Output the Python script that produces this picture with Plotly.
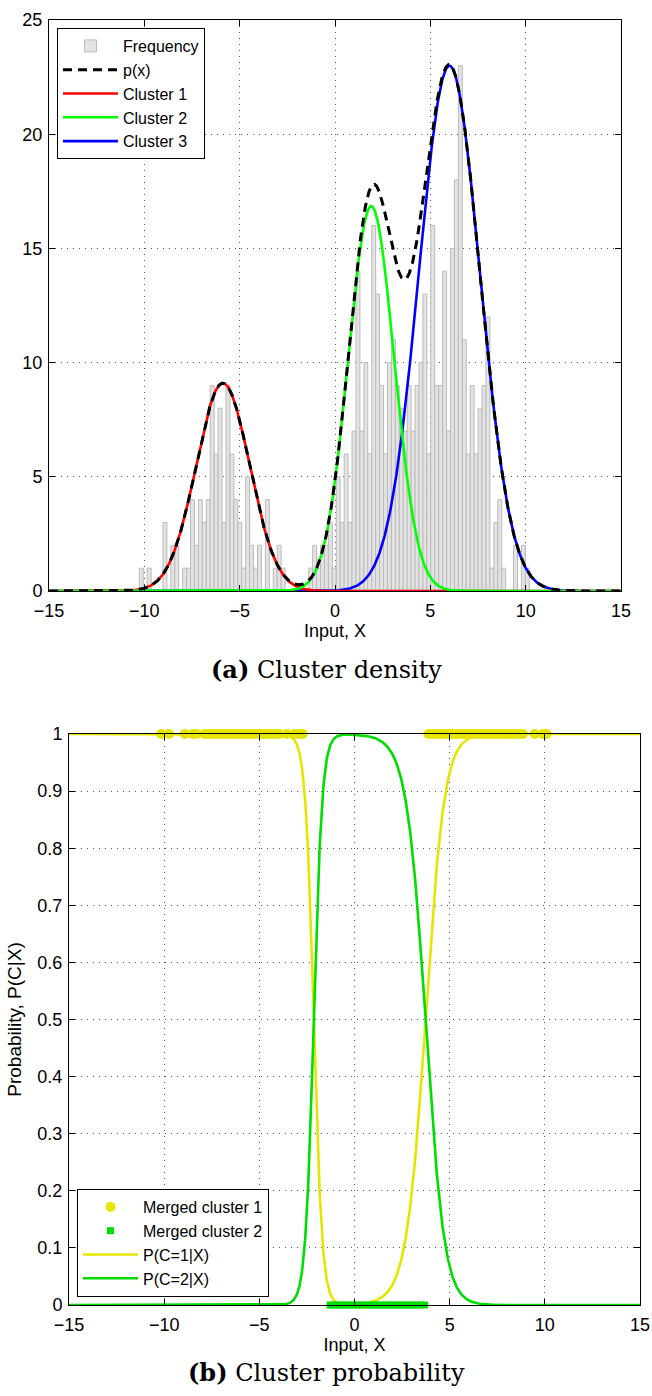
import numpy as np
import plotly.graph_objects as go

# ---------------- data ----------------
# histogram of samples (counts per bin), bins spanning hist_lo..hist_hi
hist_lo = -10.263
hist_hi = 10.19
hist_counts = [
    1, 0, 1, 0, 0, 0, 3, 0, 2, 2,
    0, 1, 1, 4, 2, 4, 3, 4, 9, 6,
    8, 3, 9, 6, 4, 3, 1, 5, 2, 1,
    2, 0, 4, 0, 1, 2, 1, 0, 0, 0,
    0, 0, 0, 1, 2, 1, 2, 2, 3, 1,
    5, 3, 6, 3, 7, 14, 7, 10, 6, 16,
    13, 9, 6, 10, 11, 9, 8, 7, 9, 7,
    9, 10, 13, 6, 16, 9, 9, 14, 7, 15,
    18, 23, 11, 6, 9, 6, 8, 9, 12, 1,
    3, 4, 1, 0, 0, 2, 0, 2, 1,
]

# fitted mixture components (panel a): mean, std, peak height
comp_mu = [-5.88, 1.9, 6.0]
comp_sd = [1.4, 1.2, 1.6]
comp_peak = [9.1, 16.85, 23.0]
comp_names = ["Cluster 1", "Cluster 2", "Cluster 3"]

# merged model used for posterior (panel b): mean, std, relative height
post_mu = [-5.88, 1.9, 6.0]
post_sd = [1.28, 1.35, 1.51]
post_h = [0.812, 1.0, 1.236]

x_ticks = [-15, -10, -5, 0, 5, 10, 15]
ya_ticks = [0, 5, 10, 15, 20, 25]
yb_ticks = [0, 0.1, 0.2, 0.3, 0.4, 0.5, 0.6, 0.7, 0.8, 0.9, 1]

# ---------------- derived ----------------
n_bins = len(hist_counts)
bw = (hist_hi - hist_lo) / n_bins
centers = hist_lo + bw * (np.arange(n_bins) + 0.5)
counts = np.array(hist_counts)

xs = np.linspace(-15, 15, 1501)
comps = [h * np.exp(-(xs - m) ** 2 / (2 * s ** 2)) for m, s, h in zip(comp_mu, comp_sd, comp_peak)]
px = comps[0] + comps[1] + comps[2]


def post(x):
    g = [h * np.exp(-(x - m) ** 2 / (2 * s ** 2)) for m, s, h in zip(post_mu, post_sd, post_h)]
    tot = g[0] + g[1] + g[2]
    return (g[0] + g[2]) / tot, g[1] / tot


p1, p2 = post(xs)
data_x = centers[counts > 0]
d1, d2 = post(data_x)
m1x = data_x[d1 >= 0.5]
m2x = data_x[d2 > 0.5]

# ---------------- figure ----------------
W, H = 652, 1396
FONT = "Liberation Sans, Arial, Helvetica, sans-serif"
SERIF = "DejaVu Serif, serif"
YEL = "#E5E500"
GRN = "#00DD00"

fig = go.Figure()

fig.add_trace(go.Bar(
    x=centers, y=counts, width=bw, name="Frequency",
    marker=dict(color="#E3E3E3", line=dict(color="#BBBBBB", width=1)),
    xaxis="x", yaxis="y", legend="legend", legendrank=1,
))
cols = ["#FF0000", "#00FF00", "#0000FF"]
for i in [2, 0, 1]:
    fig.add_trace(go.Scatter(
        x=xs, y=comps[i], mode="lines", name=comp_names[i],
        line=dict(color=cols[i], width=2.6),
        xaxis="x", yaxis="y", legend="legend", legendrank=3 + i,
    ))
fig.add_trace(go.Scatter(
    x=xs, y=px, mode="lines", name="p(x)",
    line=dict(color="black", width=3, dash="9px,6px"),
    xaxis="x", yaxis="y", legend="legend", legendrank=2,
))

# panel b
fig.add_trace(go.Scatter(
    x=xs, y=p1, mode="lines", name="P(C=1|X)",
    line=dict(color=YEL, width=2.6),
    xaxis="x2", yaxis="y2", legend="legend2", legendrank=3,
))
fig.add_trace(go.Scatter(
    x=xs, y=p2, mode="lines", name="P(C=2|X)",
    line=dict(color=GRN, width=2.6),
    xaxis="x2", yaxis="y2", legend="legend2", legendrank=4,
))
fig.add_trace(go.Scatter(
    x=m1x, y=np.ones_like(m1x), mode="markers", name="Merged cluster 1",
    marker=dict(color=YEL, size=10, symbol="circle", line=dict(width=0)),
    cliponaxis=False,
    xaxis="x2", yaxis="y2", legend="legend2", legendrank=1,
))
fig.add_trace(go.Scatter(
    x=m2x, y=np.zeros_like(m2x), mode="markers", name="Merged cluster 2",
    marker=dict(color=GRN, size=7, symbol="square", line=dict(width=0)),
    cliponaxis=False,
    xaxis="x2", yaxis="y2", legend="legend2", legendrank=2,
))

axis_common = dict(
    showline=True, linecolor="black", linewidth=1, mirror="ticks",
    ticks="inside", ticklen=6, tickcolor="black", tickwidth=1,
    showgrid=True, gridcolor="#555555", gridwidth=1, griddash="1px,5px",
    zeroline=False, automargin=False,
    tickfont=dict(family=FONT, size=18, color="black"),
)

legend_common = dict(
    bgcolor="white", bordercolor="black", borderwidth=1,
    font=dict(family=FONT, size=16), itemwidth=55, tracegroupgap=0,
    traceorder="normal",
)

fig.update_layout(
    width=W, height=H,
    margin=dict(l=0, r=0, t=0, b=0, autoexpand=False),
    paper_bgcolor="white", plot_bgcolor="white",
    font=dict(family=FONT, size=18, color="black"),
    showlegend=True,
    barmode="overlay",
    xaxis=dict(domain=[49 / W, 621 / W], range=[-15, 15], tickvals=x_ticks, anchor="y",
               ticklabelstandoff=3,
               title=dict(text="Input, X", font=dict(size=18), standoff=4), **axis_common),
    yaxis=dict(domain=[1 - 591 / H, 1 - 20 / H], range=[0, 25], tickvals=ya_ticks, anchor="x",
               ticklabelstandoff=2, **axis_common),
    xaxis2=dict(domain=[69 / W, 640 / W], range=[-15, 15], tickvals=x_ticks, anchor="y2",
                ticklabelstandoff=3,
                title=dict(text="Input, X", font=dict(size=18), standoff=4), **axis_common),
    yaxis2=dict(domain=[1 - 1305 / H, 1 - 734 / H], range=[0, 1], tickvals=yb_ticks, anchor="x2",
                ticklabelstandoff=2,
                title=dict(text="Probability, P(C|X)", font=dict(size=19), standoff=10),
                **axis_common),
    legend=dict(x=57 / W, y=1 - 28 / H, xanchor="left", yanchor="top", **legend_common),
    legend2=dict(x=77 / W, y=1 - 1297 / H, xanchor="left", yanchor="bottom", **legend_common),
    annotations=[
        dict(text="<b>(a)</b> Cluster density", x=0.5, y=1 - 669 / H, xref="paper", yref="paper",
             xanchor="center", yanchor="middle",
             showarrow=False, font=dict(family=SERIF, size=24, color="black")),
        dict(text="<b>(b)</b> Cluster probability", x=0.5, y=1 - 1372 / H, xref="paper", yref="paper",
             xanchor="center", yanchor="middle",
             showarrow=False, font=dict(family=SERIF, size=24, color="black")),
    ],
)

fig.write_html("out.html")
